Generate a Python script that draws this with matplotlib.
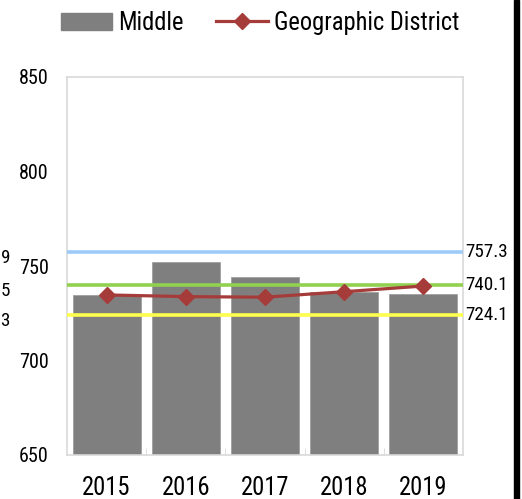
import matplotlib
matplotlib.use("Agg")
import matplotlib.pyplot as plt
from matplotlib.patches import Rectangle
from matplotlib.lines import Line2D

years = ["2015", "2016", "2017", "2018", "2019"]
middle = [734.5, 752.0, 744.4, 736.1, 735.4]
district = [734.7, 733.8, 733.5, 736.4, 739.4]
ref_values = [757.3, 740.1, 724.1]
ref_labels = ["757.3", "740.1", "724.1"]
ref_colors = ["#9dcbf7", "#92d050", "#ffff4d"]
clipped_labels = ["9", "5", "3"]
yticks = [650, 700, 750, 800, 850]

FAM = ['Roboto Condensed', 'Liberation Sans', 'DejaVu Sans']
plt.rcParams['font.family'] = FAM

fig = plt.figure(figsize=(5.22, 4.99), dpi=100)
renderer = fig.canvas.get_renderer()


def fit(txt, target_px):
    t = fig.text(0, 0, txt, fontsize=10)
    w = t.get_window_extent(renderer).width
    t.remove()
    return 10 * target_px / w


FS_Y = fit("850", 29.5)
FS_X = fit("2015", 48)
FS_R = fit("757.3", 43)
FS_L = fit("Geographic District", 185)

ax = fig.add_axes([67/522, 1-455/499, (463-67)/522, (455-77)/499])

x = list(range(len(years)))
ax.bar(x, middle, width=0.86, color="#7f7f7f", edgecolor="#a0a0a0", linewidth=0.6,
       zorder=2)
for v, c in zip(ref_values, ref_colors):
    ax.axhline(v, color=c, lw=2.6, zorder=3)
ax.plot(x, district, color="#a53c3a", lw=2.3, marker="D", markersize=8.5,
        markeredgecolor="#a53c3a", zorder=4)

ax.set_ylim(650, 850)
ax.set_xlim(-0.5, len(years) - 0.5)
ax.set_yticks(yticks)
ax.set_yticklabels([str(t) for t in yticks], fontsize=FS_Y)
ax.set_xticks(x)
ax.set_xticklabels(years, fontsize=FS_X)
ax.tick_params(axis='y', length=0, pad=13)
ax.tick_params(axis='x', length=0, pad=15)
ax.set_xticks([i + 0.5 for i in x[:-1]], minor=True)
ax.tick_params(axis='x', which='minor', length=5, direction='in', color="#d9d9d9")
for s in ax.spines.values():
    s.set_color("#d9d9d9")
    s.set_linewidth(1.2)

for v, lab in zip(ref_values, ref_labels):
    ax.text(1.005, v, lab, transform=ax.get_yaxis_transform(), fontsize=FS_R,
            va="center", ha="left")

# fragments of labels cut at the left edge of the image
for v, lab in zip(ref_values, clipped_labels):
    y_fig = ax.transData.transform((0, v))[1]
    fig.text(0.5/522, (y_fig - 6)/499, lab, fontsize=FS_R, ha="left", va="center")

# black bar at right edge
fig.patches.append(Rectangle((514/522, 0), 5/522, 1, transform=fig.transFigure,
                             color="black", zorder=10))

handles = [Rectangle((0, 0), 1, 1, color="#7f7f7f"),
           Line2D([], [], color="#a53c3a", lw=2.3, marker="D", markersize=8.5)]
fig.legend(handles, ["Middle", "Geographic District"], loc="center",
           bbox_to_anchor=(260/522, 1-23/499), ncol=2, frameon=False, fontsize=FS_L,
           handlelength=2.1, columnspacing=1.3, handletextpad=0.25)

fig.savefig("out.png", dpi=100)
